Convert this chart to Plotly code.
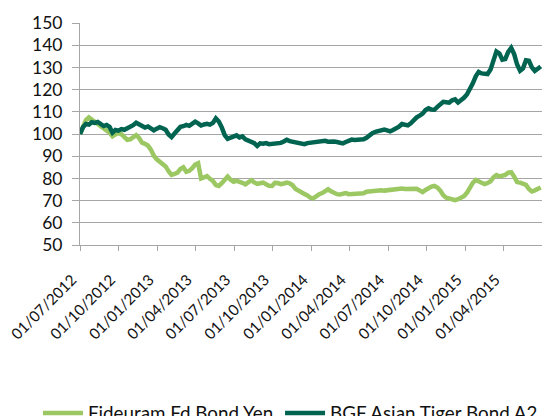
import pandas as pd
import plotly.graph_objects as go

# Weekly observations starting 01/07/2012
dates = pd.date_range("2012-07-01", periods=157, freq="7D")

fideuram = [
    100.0, 103.5, 106.3, 107.5, 106.6, 105.4, 104.2, 103.4, 102.7, 101.8,
    100.6, 99.0, 99.8, 100.6, 99.9, 98.6, 97.4, 97.6, 98.3, 99.5,
    98.2, 96.1, 95.6, 94.8, 93.0, 90.2, 88.6, 87.4, 86.5, 85.4,
    83.2, 81.6, 82.0, 82.6, 84.2, 85.0, 83.0, 83.4, 84.6, 86.2,
    86.8, 80.0, 80.5, 81.0, 79.8, 78.9, 77.0, 76.6, 77.8, 79.5,
    80.8, 79.4, 78.5, 78.9, 78.6, 78.0, 77.3, 78.4, 79.2, 78.2,
    77.5, 77.8, 78.1, 77.4, 76.7, 76.6, 78.0, 77.9, 77.4, 77.7,
    78.1, 77.8, 76.9, 75.2, 74.3, 73.6, 73.0, 72.3, 71.3, 71.0,
    72.2, 72.9, 73.4, 74.5, 75.1, 74.2, 73.5, 72.9, 72.8, 73.3,
    73.4, 72.9, 72.9, 73.3, 73.4, 73.1, 73.3, 74.0, 74.2, 74.3,
    74.4, 74.6, 74.7, 74.5, 74.7, 74.9, 75.0, 75.2, 75.4, 75.4,
    75.2, 75.3, 75.5, 75.6, 75.3, 74.6, 73.8, 74.8, 75.6, 76.3,
    76.6, 75.9, 74.5, 72.4, 71.3, 70.8, 70.5, 70.2, 70.6, 71.1,
    72.0, 73.5, 75.9, 78.0, 79.3, 78.7, 78.0, 77.4, 77.9, 78.7,
    80.5, 81.5, 80.9, 81.0, 81.6, 82.6, 82.8, 80.8, 78.4, 78.1,
    77.4, 77.1, 75.2, 74.1, 74.6, 75.0, 75.9,
]

bgf = [
    100.0, 103.0, 104.5, 104.2, 105.3, 105.0, 105.4, 104.3, 103.6, 104.1,
    103.2, 100.6, 101.8, 101.5, 102.2, 101.9, 102.6, 102.9, 104.0, 105.1,
    104.2, 103.3, 102.9, 103.4, 102.5, 101.6, 102.4, 103.1, 102.6, 101.9,
    99.8, 98.6, 100.2, 101.5, 103.2, 103.5, 104.1, 103.7, 105.0, 105.6,
    104.8, 103.8, 104.3, 104.6, 104.2, 105.0, 107.0, 105.6, 103.0, 99.5,
    97.8, 98.3, 99.0, 99.4, 98.4, 98.9, 97.6, 97.2, 96.4, 95.9,
    94.6, 95.8, 95.6, 95.9, 95.4, 95.6, 95.3, 95.8, 96.0, 96.6,
    97.4, 96.8, 96.5, 96.3, 95.8, 95.3, 95.4, 95.9, 96.1, 96.6,
    96.4, 97.0, 96.8, 96.9, 96.5, 96.7, 96.6, 96.4, 96.2, 95.8,
    96.4, 97.2, 97.5, 97.3, 97.4, 97.3, 97.6, 98.3, 99.7, 100.4,
    101.0, 101.3, 101.8, 102.0, 101.6, 101.2, 101.8, 102.5, 103.3, 104.5,
    104.4, 103.9, 104.8, 106.4, 107.5, 108.3, 109.2, 110.8, 111.6, 111.0,
    110.9, 112.2, 113.3, 114.5, 114.3, 114.1, 115.2, 115.6, 114.2, 115.0,
    116.3, 117.8, 120.0, 122.8, 126.0, 128.0, 127.3, 127.0, 127.0, 129.0,
    133.2, 137.2, 136.3, 133.5, 133.8, 137.0, 138.8, 136.0, 131.3, 128.5,
    129.6, 133.2, 133.0, 130.0, 128.4, 129.2, 130.4,
]

series_names = ["Fideuram Fd Bond Yen", "BGF Asian Tiger Bond A2"]
series_colors = ["#9BC863", "#006450"]
legend_ids = ["legend", "legend2"]

tick_dates = ["2012-07-01", "2012-10-01", "2013-01-01", "2013-04-01",
              "2013-07-01", "2013-10-01", "2014-01-01", "2014-04-01",
              "2014-07-01", "2014-10-01", "2015-01-01", "2015-04-01",
              "2015-07-01"]
tick_labels = ["01/07/2012", "01/10/2012", "01/01/2013", "01/04/2013",
               "01/07/2013", "01/10/2013", "01/01/2014", "01/04/2014",
               "01/07/2014", "01/10/2014", "01/01/2015", "01/04/2015", ""]
y_ticks = [50, 60, 70, 80, 90, 100, 110, 120, 130, 140, 150]

fig = go.Figure()
for name, vals, col, lg in zip(series_names, [fideuram, bgf], series_colors, legend_ids):
    fig.add_trace(go.Scatter(x=dates, y=vals, mode="lines", name=name,
                             legend=lg, line=dict(color=col, width=4.5)))

grid = "#A6A6A6"
txt = "#111111"
font = dict(family="Lato, Open Sans, sans-serif", size=17.5, color=txt)
leg_common = dict(orientation="h", yanchor="middle", y=-0.758, xanchor="left",
                  font=dict(family="Lato, sans-serif", size=18.8, color=txt),
                  bgcolor="rgba(0,0,0,0)", itemwidth=40)

fig.update_layout(
    width=542, height=408,
    margin=dict(l=71.5, r=8.3, t=15.3, b=171, autoexpand=False),
    paper_bgcolor="white", plot_bgcolor="white",
    font=font,
    showlegend=True,
    legend=dict(x=-0.091, **leg_common),
    legend2=dict(x=0.433, **leg_common),
    xaxis=dict(type="date", range=["2012-07-01", "2015-07-01"],
               tickmode="array", tickvals=tick_dates, ticktext=tick_labels,
               tickangle=-45, showgrid=False, zeroline=False,
               showline=True, linecolor=grid, linewidth=1,
               ticks="outside", ticklen=5, tickcolor=grid, tickwidth=1,
               ticklabelstandoff=14, ticklabelshift=-8,
               ticklabeloverflow="allow",
               automargin=False, tickfont=dict(size=15.2)),
    yaxis=dict(range=[50, 150], tickmode="array", tickvals=y_ticks,
               showgrid=True, gridcolor=grid, gridwidth=1,
               zeroline=False, showline=True, linecolor=grid, linewidth=1,
               ticks="outside", ticklen=7, tickcolor=grid, tickwidth=1,
               automargin=False,
               ticklabelstandoff=6, tickfont=dict(size=17.5)),
)

fig.write_html("out.html")
